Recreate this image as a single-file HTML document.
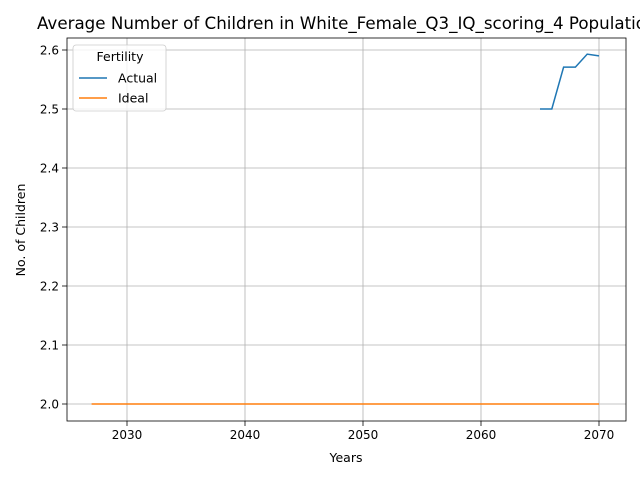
<!DOCTYPE html>
<html><head><meta charset="utf-8"><style>
body{margin:0;background:#fff;overflow:hidden;}
svg text{font-family:"DejaVu Sans","Liberation Sans",sans-serif;fill:#000;}
</style></head><body>
<svg id="chart" width="640" height="480" xmlns="http://www.w3.org/2000/svg"></svg>
<script>
const actualYears=[2065,2066,2067,2068,2069,2070];
const actualValues=[2.5,2.5,2.571,2.571,2.593,2.59];
const idealYears=[2027,2070];
const idealValues=[2.0,2.0];
const xTicks=[2030,2040,2050,2060,2070];
const yTicks=[2.0,2.1,2.2,2.3,2.4,2.5,2.6];
const L=67,R=626,T=38,B=421;
function xs(v){return 127+(v-2030)*11.8;}
function ys(v){return 404-(v-2.0)*590;}
const svg=document.getElementById('chart');
const NS='http://www.w3.org/2000/svg';
function mk(tag,attrs,parent){const e=document.createElementNS(NS,tag);for(const k in attrs)e.setAttribute(k,attrs[k]);(parent||svg).appendChild(e);return e;}
xTicks.forEach(t=>{
 const g=mk('line',{x1:xs(t),x2:xs(t),y1:T,y2:B,stroke:'#b0b0b0','stroke-width':0.8});
 
 
 mk('line',{x1:xs(t),x2:xs(t),y1:B,y2:B+5,stroke:'#000','stroke-width':0.8});
 const tx=mk('text',{x:xs(t),y:B+18,'text-anchor':'middle','font-size':12});
 tx.textContent=t;
 
 
});
yTicks.forEach(t=>{
 const g=mk('line',{x1:L,x2:R,y1:ys(t),y2:ys(t),stroke:'#b0b0b0','stroke-width':0.8});
 
 
 mk('line',{x1:L-5,x2:L,y1:ys(t),y2:ys(t),stroke:'#000','stroke-width':0.8});
 const tx=mk('text',{x:L-8,y:ys(t)+4.5,'text-anchor':'end','font-size':12});
 tx.textContent=t.toFixed(1);
 
 
});
function line(xsArr,vals,color,name){
 const p=mk('polyline',{points:xsArr.map((x,i)=>xs(x)+','+ys(vals[i])).join(' '),fill:'none',stroke:color,'stroke-width':1.5});
 
 
}
line(idealYears,idealValues,'#ff7f0e','ideal-line');
line(actualYears,actualValues,'#1f77b4','actual-line');
const fr=mk('rect',{x:L,y:T,width:R-L,height:B-T,fill:'none',stroke:'#000','stroke-width':0.8});


const title=mk('text',{x:37,y:29,'font-size':16.7});
title.textContent='Average Number of Children in White_Female_Q3_IQ_scoring_4 Population';


const xl=mk('text',{x:346,y:462,'text-anchor':'middle','font-size':12.5});
xl.textContent='Years';


const yl=mk('text',{x:25,y:230,'text-anchor':'middle','font-size':12.5,transform:'rotate(-90 25 230)'});
yl.textContent='No. of Children';


const lg=mk('g',{});


mk('rect',{x:73,y:45,width:93,height:66,rx:3,fill:'#fff','fill-opacity':0.8,stroke:'#ccc','stroke-width':0.8},lg);
const lt=mk('text',{x:120,y:61,'text-anchor':'middle','font-size':12.5},lg);lt.textContent='Fertility';
[['Actual','#1f77b4',78],['Ideal','#ff7f0e',98]].forEach(([n,c,y])=>{
 const e=mk('g',{},lg);
 
 
 mk('line',{x1:79,x2:107,y1:y,y2:y,stroke:c,'stroke-width':1.5},e);
 const t=mk('text',{x:118,y:y+4.5,'font-size':12.5},e);t.textContent=n;
});
</script>
</body></html>
